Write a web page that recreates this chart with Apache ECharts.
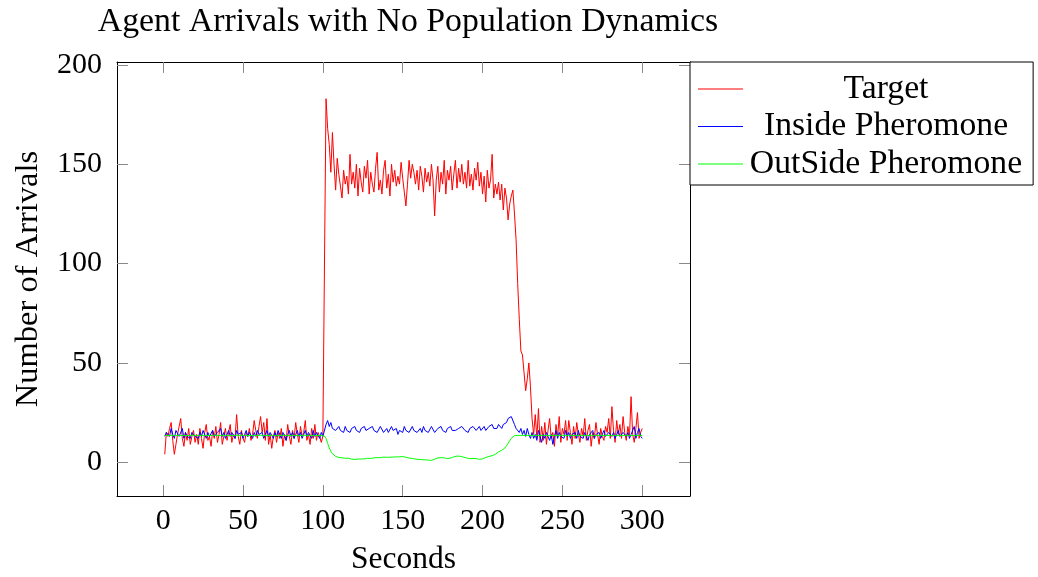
<!DOCTYPE html>
<html>
<head>
<meta charset="utf-8">
<script src="https://cdn.jsdelivr.net/npm/echarts@6/dist/echarts.min.js"></script>
<style>
html,body{margin:0;padding:0;background:#fff;}
#chart{width:1038px;height:577px;}
</style>
</head>
<body>
<div id="chart"></div>
<script>
const titleText = 'Agent Arrivals with No Population Dynamics';
const xName = 'Seconds';
const yName = 'Number of Arrivals';
const seriesNames = ['Target', 'Inside Pheromone', 'OutSide Pheromone'];
const xTicks = [0, 50, 100, 150, 200, 250, 300];
const yTicks = [0, 50, 100, 150, 200];
const firstSecond = 1;

const target = [
  4, 15, 13, 17, 20, 11, 4, 9, 14, 18,
  22, 12, 8, 15, 11, 17, 9, 13, 16, 10,
  14, 9, 17, 12, 7, 15, 19, 11, 13, 8,
  16, 12, 18, 10, 14, 20, 9, 13, 17, 11,
  15, 19, 10, 14, 12, 24, 13, 9, 16, 12,
  10, 15, 13, 17, 11, 14, 21, 16, 12, 18,
  23, 15, 20, 11, 22, 9, 14, 7, 13, 16,
  10, 15, 12, 17, 8, 14, 11, 19, 13, 9,
  16, 12, 20, 14, 10, 18, 13, 15, 21, 11,
  14, 9, 17, 12, 19, 11, 15, 13, 10, 13,
  12, 183, 168, 160, 146, 166, 150, 137, 153, 145,
  139, 133, 147, 140, 144, 135, 155, 140, 146, 138,
  150, 134, 148, 141, 136, 149, 143, 152, 135, 146,
  140, 136, 148, 156, 137, 142, 135, 147, 152, 138,
  145, 134, 150, 141, 147, 139, 144, 140, 151, 143,
  136, 129, 140, 152, 143, 150, 146, 140, 147, 137,
  149, 144, 136, 148, 141, 146, 139, 150, 142, 124,
  142, 149, 136, 146, 140, 152, 135, 147, 142, 149,
  137, 145, 152, 138, 148, 141, 150, 140, 146, 138,
  152, 139, 145, 137, 148, 142, 151, 139, 146, 135,
  144, 131, 147, 138, 142, 155, 133, 140, 135, 141,
  132, 140, 127, 138, 133, 122, 130, 134, 137, 125,
  112, 90, 72, 56, 54, 45, 36, 42, 50, 38,
  22, 14, 24, 12, 27, 10, 18, 11, 20, 9,
  16, 22, 12, 15, 8, 19, 13, 23, 10, 17,
  14, 21, 11, 21, 15, 9, 18, 12, 20, 14,
  10, 17, 13, 22, 11, 16, 19, 8, 15, 12,
  20, 14, 9, 17, 13, 11, 18, 15, 22, 12,
  28, 16, 10, 21, 14, 19, 12, 23, 15, 11,
  18, 13, 33, 14, 10, 17, 25, 12, 15, 17
];

const inside = [
  13, 15, 16, 13, 17, 14, 12, 16, 15, 13,
  14, 17, 12, 15, 13, 14, 12, 15, 16, 13,
  14, 12, 15, 13, 16, 14, 12, 15, 13, 14,
  16, 13, 12, 15, 14, 17, 13, 15, 12, 14,
  16, 13, 15, 14, 12, 16, 14, 13, 15, 12,
  14, 16, 13, 15, 14, 12, 15, 13, 16, 14,
  13, 15, 12, 14, 16, 13, 15, 14, 12, 15,
  13, 16, 14, 12, 15, 13, 11, 14, 16, 13,
  15, 12, 14, 16, 13, 15, 12, 14, 16, 13,
  15, 14, 12, 16, 13, 15, 14, 12, 15, 13,
  14, 19, 21, 18, 20, 17, 18, 16, 17, 18,
  16, 17, 15, 18, 16, 17, 15, 17, 16, 18,
  16, 17, 15, 17, 16, 18, 16, 15, 17, 16,
  18, 16, 17, 15, 16, 18, 17, 15, 16, 17,
  15, 16, 18, 16, 15, 17, 14, 16, 17, 15,
  18, 16, 17, 15, 16, 18, 16, 17, 15, 16,
  17, 15, 18, 16, 17, 15, 16, 18, 17, 15,
  16, 17, 16, 18, 16, 17, 15, 17, 16, 18,
  16, 17, 16, 15, 17, 16, 18, 17, 16, 17,
  15, 17, 16, 18, 17, 16, 17, 18, 16, 17,
  18, 16, 17, 18, 17, 19, 17, 18, 17, 19,
  18, 17, 19, 18, 20, 22, 21, 23, 24, 19,
  17, 18, 15, 17, 14, 16, 13, 17, 14, 12,
  15, 12, 14, 11, 16, 13, 10, 14, 12, 15,
  13, 11, 14, 9, 13, 16, 12, 15, 13, 14,
  12, 16, 13, 15, 12, 14, 13, 15, 12, 16,
  13, 14, 12, 15, 13, 11, 14, 13, 16, 12,
  14, 13, 15, 12, 14, 16, 13, 12, 15, 14,
  13, 15, 12, 14, 16, 13, 12, 15, 14, 13,
  15, 12, 14, 13, 18, 12, 15, 17, 13, 12
];

const outside = [
  13.5, 13.5, 13.4, 13.5, 13.6, 13.5, 13.5, 13.4, 13.5, 13.5,
  13.5, 13.6, 13.5, 13.5, 13.4, 13.5, 13.5, 13.5, 13.6, 13.5,
  13.5, 13.4, 13.5, 13.5, 13.5, 13.6, 13.5, 13.5, 13.4, 13.5,
  13.5, 13.5, 13.6, 13.5, 13.5, 13.4, 13.5, 13.5, 13.5, 13.6,
  13.5, 13.5, 13.4, 13.5, 13.5, 13.5, 13.6, 13.5, 13.5, 13.4,
  13.5, 13.5, 13.5, 13.6, 13.5, 13.5, 13.4, 13.5, 13.5, 13.5,
  13.6, 13.5, 13.5, 13.4, 13.5, 13.5, 13.5, 13.6, 13.5, 13.5,
  13.4, 13.5, 13.5, 13.5, 13.6, 13.5, 13.5, 13.4, 13.5, 13.5,
  13.5, 13.6, 13.5, 13.5, 13.4, 13.5, 13.5, 13.5, 13.6, 13.5,
  13.5, 13.4, 13.5, 13.5, 13.5, 13.6, 13.5, 13.5, 13.4, 13.5,
  13.2, 12, 9.5, 7.2, 5.5, 4.3, 3.4, 2.9, 2.6, 2.4,
  2.3, 2.2, 2.1, 2.0, 1.9, 2.0, 1.8, 1.6, 1.5, 1.4,
  1.5, 1.6, 1.7, 1.6, 1.8, 1.7, 1.9, 2.0, 1.8, 1.9,
  2.1, 2.2, 2.1, 2.3, 2.4, 2.3, 2.5, 2.6, 2.4, 2.5,
  2.4, 2.5, 2.7, 2.6, 2.8, 2.7, 2.8, 2.7, 2.8, 2.9,
  2.7, 2.5, 2.3, 2.1, 2.0, 1.9, 1.7, 1.6, 1.5, 1.4,
  1.5, 1.3, 1.4, 1.2, 1.3, 1.1, 1.0, 0.9, 1.2, 1.5,
  1.9, 2.2, 2.0, 2.3, 2.1, 2.2, 2.0, 1.8, 1.9, 2.1,
  2.4, 2.7, 2.9, 3.1, 3.2, 3.0, 2.8, 2.6, 2.3, 2.1,
  1.9, 1.8, 1.7, 1.9, 2.0, 1.8, 1.6, 1.5, 1.6, 1.7,
  2.0, 2.4, 2.7, 2.9, 3.1, 3.3, 3.6, 4.0, 4.6, 5.2,
  5.6, 6.0, 6.5, 7.2, 8.3, 9.5, 10.8, 12.0, 13.0, 13.4,
  13.5, 13.5, 13.5, 13.5, 13.5, 13.5, 13.5, 13.5, 13.5, 13.5,
  13.5, 13.5, 13.5, 13.5, 13.5, 13.5, 13.5, 13.5, 13.5, 13.5,
  13.5, 13.5, 13.5, 13.5, 13.5, 13.5, 13.5, 13.5, 13.5, 13.5,
  13.5, 13.5, 13.5, 13.5, 13.5, 13.5, 13.5, 13.5, 13.5, 13.5,
  13.5, 13.5, 13.5, 13.5, 13.5, 13.5, 13.5, 13.5, 13.5, 13.5,
  13.5, 13.5, 13.5, 13.5, 13.5, 13.5, 13.5, 13.5, 13.5, 13.5,
  13.5, 13.5, 13.5, 13.5, 13.5, 13.5, 13.5, 13.5, 13.5, 13.5,
  13.5, 13.5, 13.5, 13.5, 13.5, 13.5, 13.5, 13.5, 13.5, 13.5
];

const seriesValues = [target, inside, outside];
const seriesColors = ['#ff0000', '#0000ff', '#00ff00'];

function toPairs(values) {
  return values.map((v, i) => [firstSecond + i, v]);
}

const FONT = '"Liberation Serif", "DejaVu Serif", serif';
const chart = echarts.init(document.getElementById('chart'), null, { renderer: 'canvas' });

const tickStyle = { color: '#8a8a8a', width: 1 };
const lineStyleAxis = { color: '#000', width: 1 };

const option = {
  animation: false,
  backgroundColor: '#fff',
  title: {
    text: titleText,
    left: 403,
    textAlign: 'center',
    top: 0,
    textStyle: { fontFamily: FONT, fontSize: 33.8, fontWeight: 'normal', color: '#000' }
  },
  grid: {
    left: 117, top: 62, width: 573, height: 434,
    containLabel: false, outerBoundsMode: 'none'
  },
  legend: {
    orient: 'vertical',
    left: 690, top: 62,
    padding: [10, 11, 4, 8],
    itemGap: 3.5,
    itemWidth: 45,
    itemHeight: 1,
    icon: 'rect',
    borderColor: '#000', borderWidth: 1,
    backgroundColor: '#fff',
    itemStyle: { borderWidth: 0 },
    data: seriesNames.map((name, k) => ({
      name: name,
      itemStyle: { color: seriesColors[k], borderWidth: 0 }
    })),
    formatter: name => '{a|' + name + '}',
    textStyle: {
      fontFamily: FONT, fontSize: 33.7, color: '#000',
      rich: { a: { fontFamily: FONT, fontSize: 33.7, width: 276, align: 'center' } }
    }
  },
  xAxis: [{
    type: 'value', min: -28.9, max: 329.9, position: 'bottom',
    name: xName, nameLocation: 'middle', nameGap: 48,
    nameTextStyle: { fontFamily: FONT, fontSize: 31.5, color: '#000' },
    axisLine: { show: true, onZero: false, lineStyle: lineStyleAxis },
    axisTick: { show: true, inside: true, length: 11, lineStyle: tickStyle, customValues: xTicks },
    axisLabel: { show: true, margin: 10, fontFamily: FONT, fontSize: 30, color: '#000', customValues: xTicks },
    splitLine: { show: false }
  }, {
    type: 'value', min: -28.9, max: 329.9, position: 'top', gridIndex: 0,
    axisLine: { show: true, onZero: false, lineStyle: lineStyleAxis },
    axisTick: { show: true, inside: true, length: 11, lineStyle: tickStyle, customValues: xTicks },
    axisLabel: { show: false },
    splitLine: { show: false }
  }],
  yAxis: [{
    type: 'value', min: -17, max: 201.5, position: 'left',
    name: yName, nameLocation: 'middle', nameGap: 72, nameRotate: 90,
    nameTextStyle: { fontFamily: FONT, fontSize: 32.5, color: '#000' },
    axisLine: { show: true, onZero: false, lineStyle: lineStyleAxis },
    axisTick: { show: true, inside: true, length: 11, lineStyle: tickStyle, customValues: yTicks },
    axisLabel: { show: true, margin: 15, fontFamily: FONT, fontSize: 30, color: '#000', customValues: yTicks },
    splitLine: { show: false }
  }, {
    type: 'value', min: -17, max: 201.5, position: 'right', gridIndex: 0,
    axisLine: { show: true, onZero: false, lineStyle: lineStyleAxis },
    axisTick: { show: true, inside: true, length: 11, lineStyle: tickStyle, customValues: yTicks },
    axisLabel: { show: false },
    splitLine: { show: false }
  }],
  series: seriesNames.map((name, k) => ({
    name: name,
    type: 'line',
    xAxisIndex: 0, yAxisIndex: 0,
    data: toPairs(seriesValues[k]),
    showSymbol: false,
    symbol: 'none',
    color: seriesColors[k],
    itemStyle: { color: seriesColors[k] },
    lineStyle: { color: seriesColors[k], width: 1 },
    z: 2 + k
  }))
};
chart.setOption(option);
</script>
</body>
</html>
